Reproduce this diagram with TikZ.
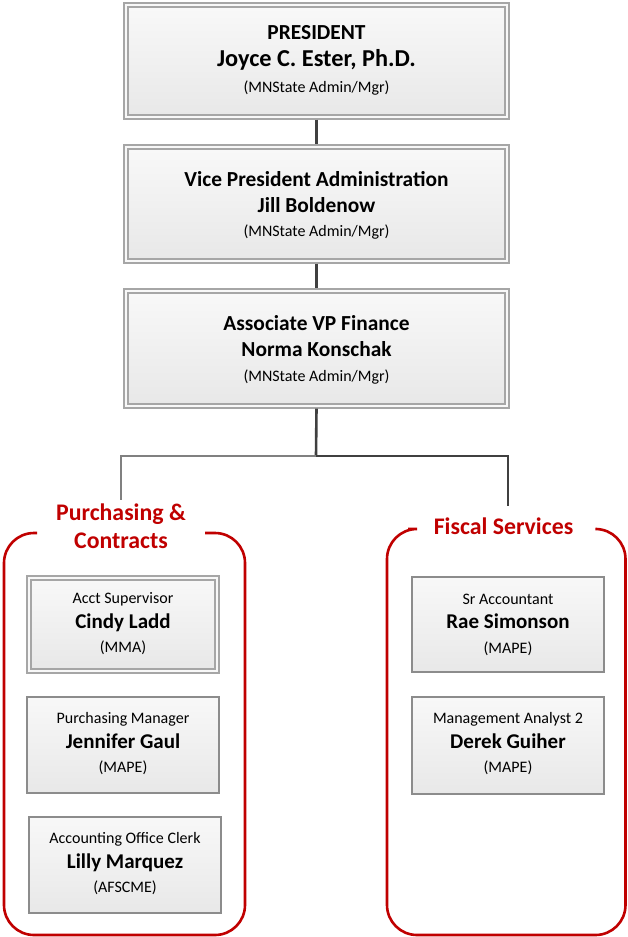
\documentclass[tikz,border=0pt]{standalone}
\usepackage{fontspec}
\setmainfont{Carlito}
\usetikzlibrary{calc}
\definecolor{boxline}{HTML}{A6A6A6}
\definecolor{boxline2}{HTML}{8C8C8C}
\definecolor{conndark}{HTML}{404040}
\definecolor{connlight}{HTML}{808080}
\definecolor{grpred}{HTML}{C00000}
\definecolor{filltop}{HTML}{F8F8F8}
\definecolor{fillbot}{HTML}{E8E8E8}
\tikzset{
  x=1pt, y=-1pt,
  bigouter/.style={draw=boxline, line width=1.1pt, fill=filltop, inner sep=0pt},
  biginner/.style={draw=boxline, line width=1.1pt, top color=filltop, bottom color=fillbot, inner sep=0pt},
  smallbox/.style={draw=boxline2, line width=1.1pt, top color=filltop, bottom color=fillbot, inner sep=0pt},
  conn/.style={draw=conndark, line width=2.6pt},
  connl/.style={draw=connlight, line width=2.6pt},
  grp/.style={draw=grpred, line width=2.6pt, rounded corners=30pt},
  grptitle/.style={text=grpred, font=\bfseries\fontsize{23.8}{28}\selectfont, align=center, inner sep=0pt},
  tline/.style={anchor=base, inner sep=0pt},
  bigtitle/.style={tline, font=\bfseries\fontsize{21.4}{25}\selectfont},
  bigname/.style={tline, font=\bfseries\fontsize{24.3}{28}\selectfont},
  bigsub/.style={tline, font=\fontsize{16}{19}\selectfont},
  stitle/.style={tline, font=\fontsize{16}{19}\selectfont},
  sname/.style={tline, font=\bfseries\fontsize{21}{25}\selectfont},
  ssub/.style={tline, font=\fontsize{16}{19}\selectfont},
}
\begin{document}
\begin{tikzpicture}
\useasboundingbox (0,0) rectangle (627,937);
% ---------- top boxes ----------
\node[bigouter, minimum width=385pt, minimum height=116pt] (b1o) at (316.5,61) {};
\node[biginner, minimum width=377pt, minimum height=108pt] (b1) at (316.5,61) {};
\node[bigtitle] (b1t) at (316.5,39) {PRESIDENT};
\node[bigname] (b1n) at (316.5,66) {Joyce C. Ester, Ph.D.};
\node[bigsub] (b1s) at (316.5,92) {(MNState Admin/Mgr)};

\node[bigouter, minimum width=385pt, minimum height=118pt] (b2o) at (316.5,204) {};
\node[biginner, minimum width=377pt, minimum height=110pt] (b2) at (316.5,204) {};
\node[bigtitle] (b2t) at (316.5,186) {Vice President Administration};
\node[bigtitle] (b2n) at (316.5,212) {Jill Boldenow};
\node[bigsub] (b2s) at (316.5,236) {(MNState Admin/Mgr)};

\node[bigouter, minimum width=385pt, minimum height=119pt] (b3o) at (316.5,348.5) {};
\node[biginner, minimum width=377pt, minimum height=111pt] (b3) at (316.5,348.5) {};
\node[bigtitle] (b3t) at (316.5,330) {Associate VP Finance};
\node[bigtitle] (b3n) at (316.5,356) {Norma Konschak};
\node[bigsub] (b3s) at (316.5,381) {(MNState Admin/Mgr)};

% ---------- connectors ----------
\draw[conn] (b1o.south) -- (b2o.north);
\draw[conn] (b2o.south) -- (b3o.north);
\coordinate (jn) at (316,456);
\coordinate (lend) at (121,500);
\coordinate (rend) at (508,506);
\draw[conn] (b3o.south) -- (jn);
\draw[connl] (jn) -| (lend);
\draw[conn] (jn) -| (rend);

% ---------- groups ----------
\draw[grp] (37,533) -- (4,533) -- (4,935) -- (245,935) -- (245,533) -- (205,533);
\node[grptitle] (g1) at (121,526) {Purchasing \&\\Contracts};
\draw[grp] (408,529) -- (387,529) -- (387,935) -- (625.5,935) -- (625.5,529) -- (597,529);
\node[grptitle, anchor=base] (g2) at (503.5,534) {Fiscal Services};

% ---------- left group boxes ----------
\node[bigouter, minimum width=192pt, minimum height=97pt] (p1o) at (123,624.5) {};
\node[biginner, minimum width=184pt, minimum height=89pt] (p1) at (123,624.5) {};
\node[stitle] (p1t) at (123,603) {Acct Supervisor};
\node[sname] (p1n) at (123,628) {Cindy Ladd};
\node[ssub] (p1s) at (123,652) {(MMA)};

\node[smallbox, minimum width=192pt, minimum height=96pt] (p2) at (123,745) {};
\node[stitle] (p2t) at (123,723) {Purchasing Manager};
\node[sname] (p2n) at (123,748) {Jennifer Gaul};
\node[ssub] (p2s) at (123,772) {(MAPE)};

\node[smallbox, minimum width=192pt, minimum height=96pt] (p3) at (125,865) {};
\node[stitle] (p3t) at (125,843) {Accounting Office Clerk};
\node[sname] (p3n) at (125,868) {Lilly Marquez};
\node[ssub] (p3s) at (125,892) {(AFSCME)};

% ---------- right group boxes ----------
\node[smallbox, minimum width=192pt, minimum height=95pt] (f1) at (508,624.5) {};
\node[stitle] (f1t) at (508,604) {Sr Accountant};
\node[sname] (f1n) at (508,628) {Rae Simonson};
\node[ssub] (f1s) at (508,653) {(MAPE)};

\node[smallbox, minimum width=192pt, minimum height=97pt] (f2) at (508,745.5) {};
\node[stitle] (f2t) at (508,723) {Management Analyst 2};
\node[sname] (f2n) at (508,748) {Derek Guiher};
\node[ssub] (f2s) at (508,772) {(MAPE)};
\end{tikzpicture}
\end{document}
